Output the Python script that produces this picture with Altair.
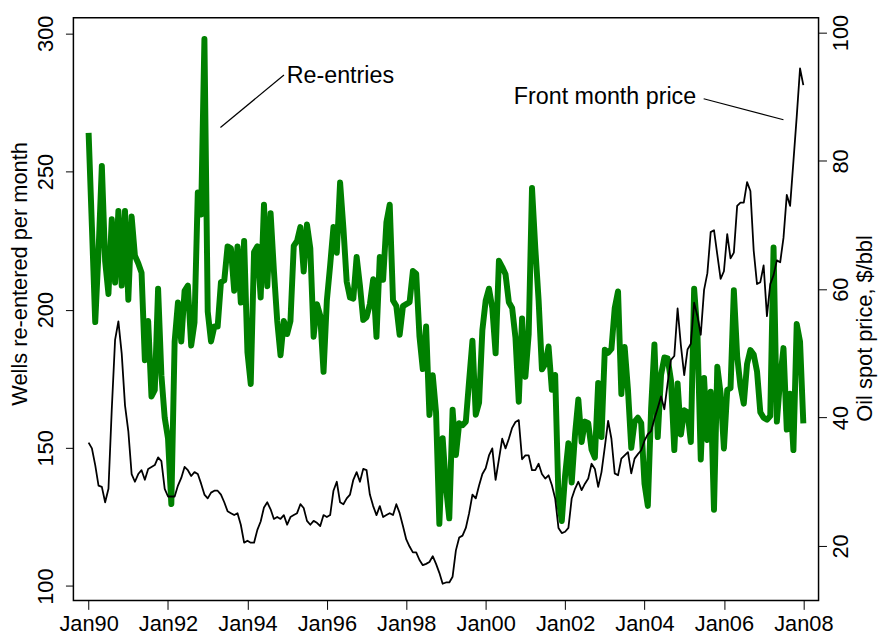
import altair as alt
import pandas as pd

# ---- data (monthly, Jan 1990 .. Jan 2008) ----
start_year = 1990
re_entries = [
    264, 230, 195.5, 221, 252, 217.5, 205.7, 232.7, 209.8, 235.7, 208.7, 235.7,
    203.6, 233.7, 219.5, 216.8, 213.4, 181.7, 195.9, 168.6, 171, 207.6, 176.3, 160.9,
    153.4, 129.7, 188.5, 202.6, 188.5, 206.8, 208.7, 187, 195.3, 242.4, 234.4, 297.9,
    199.3, 188.5, 193.9, 193.9, 210, 210.6, 222.9, 222.2, 206.8, 222.9, 202.6, 224.9,
    184.6, 173.1, 220.9, 222.9, 204.4, 238, 208.5, 234.9, 214.1, 195.9, 183.5, 195.9,
    191.2, 195.9, 223.1, 224.9, 229.9, 213.8, 230.8, 222.2, 190.2, 202, 197.9, 177.5,
    203.3, 216.1, 229.9, 220.6, 246, 229.6, 210.1, 204.4, 204, 219.1, 208.7, 196.3,
    197.3, 202, 211, 190.2, 219.1, 210.8, 231.6, 238, 203.3, 201.3, 190.9, 201.3,
    202, 202.7, 214, 213, 190.2, 178.5, 193.9, 161.9, 176.3, 162.9, 122.5, 153.5,
    135.9, 124.5, 163.8, 147.4, 158.9, 158.2, 159.5, 174.4, 188.8, 162, 166.3, 192.6,
    203.3, 207.6, 200.6, 184.2, 217.7, 215.4, 212.8, 202.7, 200.6, 189.9, 166.7, 196.8,
    175.7, 191.2, 244, 222.2, 203.3, 178.4, 180.4, 186.7, 171, 176.4, 131.9, 123.5,
    140, 151.7, 137.5, 154.8, 167.5, 152.1, 159.5, 158.9, 149.4, 146.5, 173.5, 153.9,
    185.5, 184.4, 185.8, 200.6, 206.6, 169.5, 186.5, 171, 150, 159.5, 160.9, 159,
    137, 129, 164.3, 187.4, 153.9, 176.4, 182.7, 182.4, 174.4, 149.2, 173.3, 154.8,
    163.6, 162.9, 152.1, 207.6, 191.2, 145.8, 175.3, 152.8, 170.3, 127.6, 179.4, 169.6,
    149.8, 171, 171.6, 207, 183.1, 172.3, 166, 180.4, 185.4, 183.8, 177.7, 162.9,
    160.9, 160.2, 161.5, 222.5, 159.5, 175, 186.1, 156.6, 169.6, 149.2, 194.8, 188.5,
    158.9,
]
oil_price = [
    36.1, 35.2, 32.6, 29.4, 29.2, 26.8, 28.9, 41.3, 52.1, 55, 50, 41.9,
    37.9, 31.2, 30, 31.2, 31.8, 30.3, 32, 32.3, 32.6, 33.8, 33.2, 28.9,
    27.7, 27.7, 27.7, 29.4, 30.6, 32.3, 31.8, 30.9, 31.5, 31.2, 29.7, 28,
    27.4, 28.3, 28.6, 28.6, 28, 26.8, 25.4, 25.1, 24.8, 25.1, 23.3, 20.5,
    20.8, 20.5, 20.5, 22.5, 23.8, 26, 26.8, 25.7, 24.2, 24.5, 24.2, 24.8,
    23.3, 24.5, 24.8, 25.1, 26.5, 25.9, 23.9, 23.3, 23.9, 23.6, 23.1, 24.8,
    24.5, 24.8, 28.6, 30, 26.8, 26.5, 27.4, 28, 30.3, 31.5, 30, 32,
    31.8, 28, 26.2, 24.8, 26.2, 24.5, 24.8, 25.1, 24.8, 26.5, 25.1, 23.1,
    21, 19.9, 19, 19, 17.8, 17, 17.2, 17.5, 18.4, 17.2, 15.8, 14.1,
    14.3, 14.3, 15.2, 19.3, 21.3, 21.6, 22.8, 25.1, 28, 27.4, 29.4, 31.2,
    32.1, 34.1, 35.2, 30.3, 33.5, 36.7, 35.2, 36.7, 38.4, 39.3, 39.6, 33.5,
    34.1, 34.1, 31.8, 31.8, 32.8, 31.2, 30.5, 31, 29.5, 27.4, 22.8, 22,
    22.2, 22.8, 27.4, 28.9, 30, 28.7, 29.7, 30.5, 32.8, 32, 29.2, 31.5,
    35.4, 39.5, 36.7, 31.3, 31, 33.6, 34.1, 34.6, 31.3, 33.6, 34.3, 34.9,
    36.4, 37.4, 37.9, 39.8, 41.5, 43.3, 41.3, 45.4, 49, 49.6, 57, 51.2,
    46.6, 50.6, 51.5, 57.9, 55.8, 52.9, 59.9, 62.5, 68.9, 69.2, 65.4, 61.6,
    62.8, 68.6, 64.8, 65.7, 73, 73.5, 73.5, 76.7, 75.3, 66, 60.8, 61.1,
    63.7, 55.8, 60.8, 62.2, 64.5, 64.2, 68, 74.7, 73, 79.9, 86.9, 94.4,
    91.8,
]
x_ticks = [1990, 1992, 1994, 1996, 1998, 2000, 2002, 2004, 2006, 2008]
left_ticks = [100, 150, 200, 250, 300]
right_ticks = [20, 40, 60, 80, 100]

# annotation labels and their leader lines (in data units: year, wells)
ann_labels = ["Re-entries", "Front month price"]
ann_text_x = [1994.99, 2005.30]
ann_text_y = [284.6, 276.8]
ann_align = ["left", "right"]
ann_line_x = [1993.32, 2005.49]
ann_line_x2 = [1994.92, 2007.50]
ann_line_y = [265.9, 276.3]
ann_line_y2 = [284.9, 268.7]

n = len(re_entries)
df = pd.DataFrame({
    "t": [start_year + i / 12 for i in range(n)],
    "wells": re_entries,
    "oil": oil_price,
})
ann_txt = pd.DataFrame({"label": ann_labels, "x": ann_text_x, "y": ann_text_y, "align": ann_align})
ann_ln = pd.DataFrame({"x": ann_line_x, "x2": ann_line_x2, "y": ann_line_y, "y2": ann_line_y2})

FONT = "Liberation Sans"
FS = 22
FS_ANN = 23.5

x_scale = alt.Scale(domain=[1989.617, 2008.383], nice=False, zero=False)
left_scale = alt.Scale(domain=[94.8, 305.6], nice=False, zero=False)
right_scale = alt.Scale(domain=[11.5, 102.3], nice=False, zero=False)

x_axis = alt.Axis(
    values=x_ticks, labelExpr="'Jan' + slice(toString(datum.value), 2)",
    title=None, grid=False, domain=False, tickSize=9, tickColor="black", tickWidth=1,
    labelFont=FONT, labelFontSize=FS, labelColor="black", labelPadding=4,
    labelFlush=False, labelOverlap=False,
)
X = alt.X("t:Q", scale=x_scale, axis=x_axis)

green = alt.Chart(df).mark_line(
    color="#008000", strokeWidth=6, strokeJoin="round", strokeCap="butt"
).encode(
    x=X,
    y=alt.Y("wells:Q", scale=left_scale, axis=alt.Axis(
        values=left_ticks, orient="left", title="Wells re-entered per month",
        grid=False, domain=False, tickSize=8, tickColor="black", tickWidth=1,
        labelAngle=270, labelAlign="center", labelBaseline="alphabetic",
        labelPadding=13, labelFont=FONT, labelFontSize=FS, labelColor="black",
        labelOverlap=False, labelFlush=False,
        titleFont=FONT, titleFontSize=FS, titleFontWeight="normal", titleColor="black",
        titleAngle=270, titleAlign="center", titleBaseline="alphabetic",
        titleX=-47, titleY=258,
    )),
)

rules = alt.Chart(ann_ln).mark_rule(color="black", strokeWidth=1.2).encode(
    x=alt.X("x:Q", scale=x_scale, axis=x_axis),
    x2="x2:Q",
    y=alt.Y("y:Q", scale=left_scale, axis=None),
    y2="y2:Q",
)

texts_left = alt.Chart(ann_txt).transform_filter("datum.align == 'left'").mark_text(
    align="left", baseline="middle", font=FONT, fontSize=FS_ANN, color="black"
).encode(
    x=alt.X("x:Q", scale=x_scale, axis=x_axis),
    y=alt.Y("y:Q", scale=left_scale, axis=None),
    text="label:N",
)
texts_right = alt.Chart(ann_txt).transform_filter("datum.align == 'right'").mark_text(
    align="right", baseline="middle", font=FONT, fontSize=FS_ANN, color="black"
).encode(
    x=alt.X("x:Q", scale=x_scale, axis=x_axis),
    y=alt.Y("y:Q", scale=left_scale, axis=None),
    text="label:N",
)

black = alt.Chart(df).mark_line(color="black", strokeWidth=1.8, strokeJoin="round").encode(
    x=X,
    y=alt.Y("oil:Q", scale=right_scale, axis=alt.Axis(
        values=right_ticks, orient="right", title="Oil spot price, $/bbl",
        grid=False, domain=False, tickSize=8, tickColor="black", tickWidth=1,
        labelAngle=270, labelAlign="center", labelBaseline="alphabetic",
        labelPadding=21, labelFont=FONT, labelFontSize=FS, labelColor="black",
        labelOverlap=False, labelFlush=False,
        titleFont=FONT, titleFontSize=FS, titleFontWeight="normal", titleColor="black",
        titleAngle=270, titleAlign="center", titleBaseline="alphabetic",
        titleX=53, titleY=313,
    )),
)

chart = alt.layer(green, rules, texts_left, texts_right, black).resolve_scale(
    y="independent"
).properties(
    width=752, height=588,
    autosize=alt.AutoSizeParams(type="none"),
    padding={"left": 66, "top": 7, "right": 60, "bottom": 34},
    background="white",
).configure_view(stroke="black", strokeWidth=1.5)

chart.save("out.html", embed_options={"renderer": "svg", "actions": False})
